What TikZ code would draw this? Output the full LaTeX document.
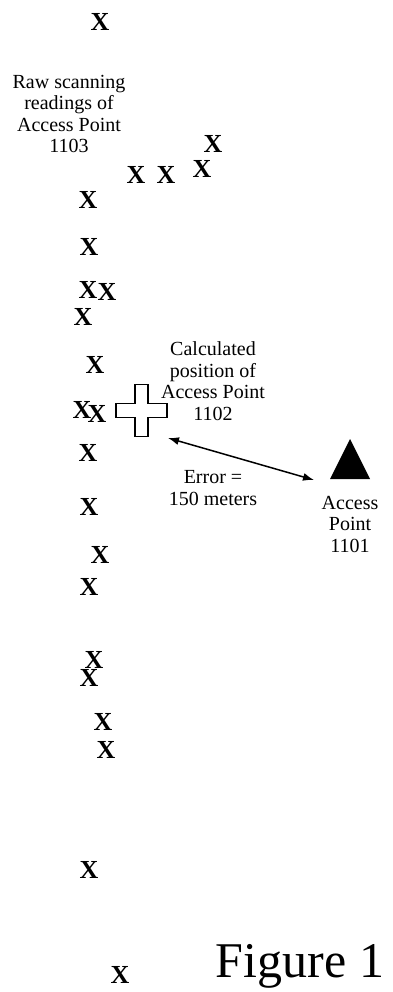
\documentclass[tikz,border=0pt]{standalone}
\usepackage{fontspec}
\setmainfont{Liberation Serif}
\usepackage{tikz}
\usetikzlibrary{arrows.meta,positioning,calc}

\begin{document}
\begin{tikzpicture}[>={Latex[length=11pt,width=8pt]},x=1pt,y=-1pt,
   rd/.style={inner sep=0pt,font=\fontsize{26}{26}\selectfont\bfseries},
   lbl/.style={align=center,inner sep=0pt,font=\fontsize{20}{21.5}\selectfont}]
  \useasboundingbox (0,0) rectangle (392,992);
  % raw scanning readings
  \node[rd] (r1)  at (100,22)  {X};
  \node[rd] (r2)  at (213,144) {X};
  \node[rd] (r3)  at (202,169) {X};
  \node[rd] (r4)  at (136,175) {X};
  \node[rd] (r5)  at (166,175) {X};
  \node[rd] (r6)  at (88,200)  {X};
  \node[rd] (r7)  at (89,247)  {X};
  \node[rd] (r8)  at (88,290)  {X};
  \node[rd] (r9)  at (107,292) {X};
  \node[rd] (r10) at (83,317)  {X};
  \node[rd] (r11) at (95,365)  {X};
  \node[rd] (r12) at (82,410)  {X};
  \node[rd] (r13) at (97,414)  {X};
  \node[rd] (r14) at (88,453)  {X};
  \node[rd] (r15) at (89,507)  {X};
  \node[rd] (r16) at (100,555) {X};
  \node[rd] (r17) at (89,587)  {X};
  \node[rd] (r18) at (94,660)  {X};
  \node[rd] (r19) at (89,678)  {X};
  \node[rd] (r20) at (103,722) {X};
  \node[rd] (r21) at (106,750) {X};
  \node[rd] (r22) at (89,870)  {X};
  \node[rd] (r23) at (120,975) {X};
  \node[lbl] (raw) at (69,114) {Raw scanning\\readings of\\Access Point\\1103};
  % calculated position (cross)
  \draw[line width=1.2pt,fill=white] (135,384.5) -- (148,384.5) -- (148,403.5) -- (167,403.5)
     -- (167,417.5) -- (148,417.5) -- (148,436.5) -- (135,436.5) -- (135,417.5)
     -- (116,417.5) -- (116,403.5) -- (135,403.5) -- cycle;
  \coordinate (calc) at (168,438);
  \node[lbl] (calclbl) at (213,381) {Calculated\\position of\\Access Point\\1102};
  % true access point
  \fill (350,439) -- (370,479) -- (330,479) -- cycle;
  \coordinate (ap) at (314,480);
  \node[lbl] (aplbl) at (350,524) {Access\\Point\\1101};
  \draw[<->,line width=1.5pt] (calc) -- (ap);
  \node[lbl] (err) at (213,488) {Error =\\150 meters};
  \node[anchor=base,inner sep=0pt,font=\fontsize{50}{50}\selectfont] (fig) at (300,977) {Figure 1};
\end{tikzpicture}
\end{document}
